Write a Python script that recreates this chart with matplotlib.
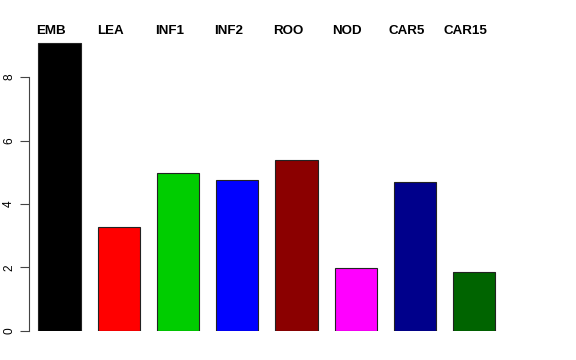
import matplotlib
matplotlib.use('Agg')
import matplotlib.pyplot as plt
import numpy as np

plt.rcParams['font.family'] = ['Liberation Sans', 'DejaVu Sans']

labels = ['EMB', 'LEA', 'INF1', 'INF2', 'ROO', 'NOD', 'CAR5', 'CAR15']
values = [9.08, 3.27, 4.97, 4.74, 5.38, 1.97, 4.68, 1.84]
colors = ['#000000', '#ff0000', '#00cd00', '#0000ff', '#8b0000', '#ff00ff', '#00008b', '#006400']
yticks = [0, 2, 4, 6, 8]

# R barplot layout: width 1, space 0.4
space = 0.4
ind = space + np.arange(len(labels)) * (1 + space)

fig = plt.figure(figsize=(5.76, 3.6), dpi=100)
ax = fig.add_axes([29.3 / 576, 29.3 / 360, (545 - 29.3) / 576, (330.7 - 10) / 360])

ax.bar(ind, values, width=1, align='edge', color=colors,
       edgecolor='#222222', linewidth=0.8)

ax.set_xlim(space - 9 / 42.32, space + (545 - 38.3) / 42.32)
ax.set_ylim(0, (330.7 - 10) / 31.69)

for x, lab in zip(ind, labels):
    ax.text(x + 0.5 - 0.2, 9.46, lab, ha='center', va='center',
            fontsize=9.6, fontweight='bold')

for s in ['top', 'right', 'bottom']:
    ax.spines[s].set_visible(False)
ax.spines['left'].set_bounds(0, 8)
ax.spines['left'].set_color('#444444')
ax.spines['left'].set_linewidth(0.8)

ax.set_xticks([])
ax.set_yticks(yticks)
ax.set_yticklabels([str(t) for t in yticks], rotation=90, va='center')
ax.tick_params(axis='y', length=6.2, width=0.8, color='#444444',
               pad=4, labelsize=8.6)

fig.savefig('out.png', dpi=100)
